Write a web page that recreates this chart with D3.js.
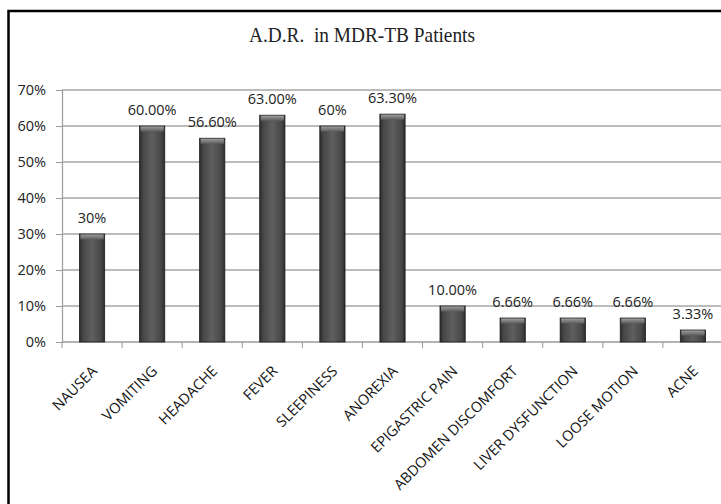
<!DOCTYPE html>
<html>
<head>
<meta charset="utf-8">
<script src="https://cdn.jsdelivr.net/npm/d3@7"></script>
<style>
    body { margin: 0; background: #fff; }
    svg { display: block; }
</style>
</head>
<body>
<div id="chart"></div>
<script>

// data
const categories = ["NAUSEA", "VOMITING", "HEADACHE", "FEVER", "SLEEPINESS", "ANOREXIA",
    "EPIGASTRIC PAIN", "ABDOMEN DISCOMFORT", "LIVER DYSFUNCTION", "LOOSE MOTION", "ACNE"];
const values = [30, 60, 56.6, 63, 60, 63.3, 10, 6.66, 6.66, 6.66, 3.33];
const valueLabels = ["30%", "60.00%", "56.60%", "63.00%", "60%", "63.30%",
    "10.00%", "6.66%", "6.66%", "6.66%", "3.33%"];
const yTicks = [0, 10, 20, 30, 40, 50, 60, 70];
const title = "A.D.R.  in MDR-TB Patients";

const width = 721, height = 504;

let svg = d3.select("#chart").append("svg")
    .attr("width", width)
    .attr("height", height);

// chart frame (right and bottom edges fall outside the picture)
svg.append("rect")
    .attr("x", 8.5).attr("y", 11)
    .attr("width", 740).attr("height", 520)
    .attr("fill", "#fff")
    .attr("stroke", "#000")
    .attr("stroke-width", 2.5);

// scales
let x = d3.scaleBand()
    .domain(categories)
    .range([62, 723])
    .paddingInner(0.58)
    .paddingOuter(0.29);

let y = d3.scaleLinear()
    .domain([0, 70])
    .range([342, 90]);

// gradients for the bevelled bars
let defs = svg.append("defs");
let side = defs.append("linearGradient").attr("id", "barSide")
    .attr("x1", "0%").attr("x2", "100%").attr("y1", "0%").attr("y2", "0%");
[["0%", "#2b2b2b"], ["14%", "#474747"], ["50%", "#5f5f5f"], ["86%", "#474747"], ["100%", "#2b2b2b"]]
    .forEach(s => side.append("stop").attr("offset", s[0]).attr("stop-color", s[1]));
let cap = defs.append("linearGradient").attr("id", "barCap")
    .attr("x1", "0%").attr("x2", "0%").attr("y1", "0%").attr("y2", "100%");
[["0%", "#9c9c9c"], ["100%", "#5c5c5c"]]
    .forEach(s => cap.append("stop").attr("offset", s[0]).attr("stop-color", s[1]));

// gridlines
svg.append("g")
    .selectAll("line")
    .data(yTicks.slice(1))
    .enter().append("line")
    .attr("x1", 62).attr("x2", 723)
    .attr("y1", d => y(d)).attr("y2", d => y(d))
    .attr("stroke", "#a6a6a6")
    .attr("stroke-width", 1.5);

// y axis
let yAxis = d3.axisLeft(y)
    .tickValues(yTicks)
    .tickSize(6)
    .tickPadding(10)
    .tickFormat(d => d + "%");

svg.append("g")
    .attr("transform", "translate(62,0)")
    .call(yAxis)
    .call(g => g.select(".domain").attr("stroke", "#9a9a9a").attr("stroke-width", 1.2))
    .call(g => g.selectAll(".tick line").attr("stroke", "#9a9a9a"))
    .call(g => g.selectAll("text")
        .attr("fill", "#222")
        .style("font-family", "'Open Sans', sans-serif")
        .style("font-size", "14.5px"));

// x axis line and tick marks at band boundaries
let step = x.step();
svg.append("line")
    .attr("x1", 62).attr("x2", 723)
    .attr("y1", y(0)).attr("y2", y(0))
    .attr("stroke", "#9a9a9a").attr("stroke-width", 1.5);

svg.append("g")
    .selectAll("line")
    .data(categories)
    .enter().append("line")
    .attr("x1", d => x(d) + x.bandwidth() / 2 - step / 2)
    .attr("x2", d => x(d) + x.bandwidth() / 2 - step / 2)
    .attr("y1", y(0)).attr("y2", y(0) + 6)
    .attr("stroke", "#9a9a9a");

// bars
let bars = svg.append("g")
    .selectAll("g")
    .data(categories)
    .enter().append("g");

bars.append("rect")
    .attr("x", d => x(d))
    .attr("y", (d, i) => y(values[i]))
    .attr("width", x.bandwidth())
    .attr("height", (d, i) => y(0) - y(values[i]))
    .attr("fill", "url(#barSide)")
    .attr("stroke", "#1e1e1e")
    .attr("stroke-width", 0.8);

bars.append("rect")
    .attr("x", d => x(d) + 1)
    .attr("y", (d, i) => y(values[i]) + 0.5)
    .attr("width", x.bandwidth() - 2)
    .attr("height", 5)
    .attr("fill", "url(#barCap)");

// value labels
svg.append("g")
    .selectAll("text")
    .data(categories)
    .enter().append("text")
    .attr("x", d => x(d) + x.bandwidth() / 2)
    .attr("y", (d, i) => y(values[i]) - 11)
    .attr("text-anchor", "middle")
    .attr("fill", "#222")
    .style("font-family", "'Open Sans', sans-serif")
    .style("font-size", "14.5px")
    .text((d, i) => valueLabels[i]);

// category labels, rotated
svg.append("g")
    .selectAll("text")
    .data(categories)
    .enter().append("text")
    .attr("transform", d => `translate(${x(d) + x.bandwidth() / 2 + 6}, 372) rotate(-45)`)
    .attr("text-anchor", "end")
    .attr("fill", "#111")
    .style("font-family", "'Open Sans', sans-serif")
    .style("font-size", "14.5px")
    .text(d => d);

// title
svg.append("text")
    .attr("x", 362)
    .attr("y", 42)
    .attr("text-anchor", "middle")
    .attr("fill", "#222")
    .attr("textLength", 226)
    .attr("lengthAdjust", "spacingAndGlyphs")
    .style("font-family", "'Liberation Serif', serif")
    .style("font-size", "21px")
    .style("white-space", "pre")
    .text(title);

</script>
</body>
</html>
